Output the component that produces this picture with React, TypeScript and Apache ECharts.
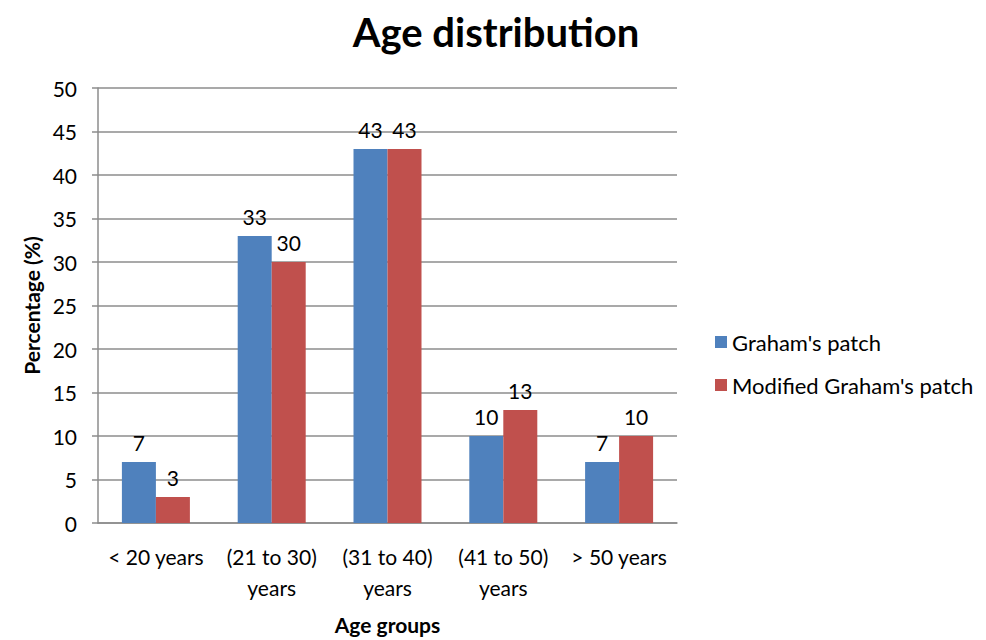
import * as echarts from 'echarts'
import { useEffect, useRef } from 'react'

const categories = ['< 20 years', '(21 to 30)\nyears', '(31 to 40)\nyears', '(41 to 50)\nyears', '> 50 years']
const grahamValues = [7, 33, 43, 10, 7]
const modifiedValues = [3, 30, 43, 13, 10]
const yTicks = { min: 0, max: 50, interval: 5 }

const font = 'Lato, "Open Sans", sans-serif'
const textColor = '#000000'
const gridColor = '#8c8c8c'

export default function App() {
  const ref = useRef<HTMLDivElement>(null)

  useEffect(() => {
    if (!ref.current) return
    const chart = echarts.init(ref.current, undefined, { renderer: 'svg' })

    const barLabel = {
      show: true,
      position: 'top' as const,
      distance: 9,
      color: textColor,
      fontSize: 21,
      fontFamily: font,
    }

    chart.setOption({
      animation: false,
      backgroundColor: '#ffffff',
      textStyle: { fontFamily: font, color: textColor },
      title: {
        text: 'Age distribution',
        left: 491,
        textAlign: 'center',
        top: 7,
        textStyle: { fontSize: 40, fontWeight: 'bold', color: textColor, fontFamily: font },
      },
      legend: {
        orient: 'vertical',
        left: 710,
        top: 326,
        itemWidth: 12,
        itemHeight: 12,
        itemGap: 21,
        icon: 'rect',
        textStyle: { fontSize: 22, color: textColor, fontFamily: font, lineHeight: 22 },
      },
      grid: { left: 98, width: 579, top: 88, height: 435 },
      xAxis: {
        type: 'category',
        data: categories,
        name: 'Age groups',
        nameLocation: 'middle',
        nameGap: 91,
        nameTextStyle: { fontSize: 21, fontWeight: 'bold', color: textColor },
        axisLine: { lineStyle: { color: gridColor, width: 1.5 } },
        axisTick: { show: false },
        axisLabel: { fontSize: 21, color: textColor, margin: 18, lineHeight: 31, interval: 0 },
      },
      yAxis: {
        type: 'value',
        ...yTicks,
        name: 'Percentage (%)',
        nameLocation: 'middle',
        nameGap: 55,
        nameTextStyle: { fontSize: 21, fontWeight: 'bold', color: textColor },
        axisLine: { show: true, lineStyle: { color: gridColor, width: 1.5 } },
        axisTick: { show: true, length: 6, lineStyle: { color: gridColor, width: 1.5 } },
        axisLabel: { fontSize: 21, color: textColor, margin: 21 },
        splitLine: { lineStyle: { color: gridColor, width: 1.5 } },
      },
      series: [
        {
          name: "Graham's patch",
          type: 'bar',
          data: grahamValues,
          barWidth: 34,
          barGap: '0%',
          itemStyle: { color: '#4f81bd' },
          label: barLabel,
        },
        {
          name: "Modified Graham's patch",
          type: 'bar',
          data: modifiedValues,
          barWidth: 34,
          barGap: '0%',
          itemStyle: { color: '#c0504d' },
          label: barLabel,
        },
      ],
    })

    return () => {
      chart.dispose()
    }
  }, [])

  return <div ref={ref} style={{ position: 'fixed', left: 0, top: 0, width: 986, height: 640 }} />
}
